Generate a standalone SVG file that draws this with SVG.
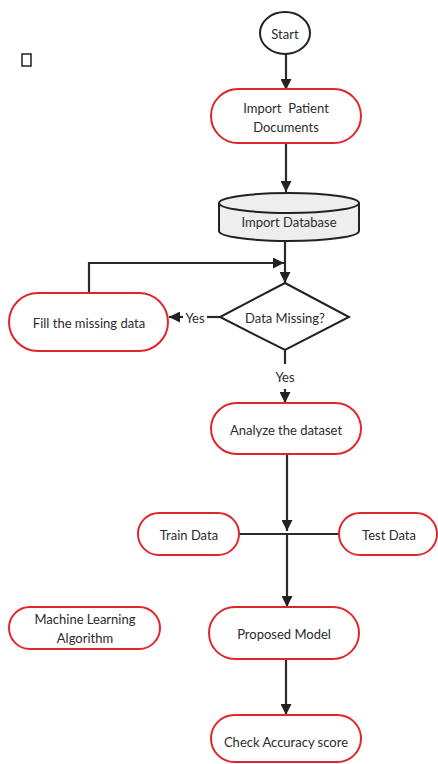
<svg xmlns="http://www.w3.org/2000/svg" width="438" height="764" viewBox="0 0 438 764">
<style>
.term{fill:#fff;stroke:#e0262b;stroke-width:2}
.blk{fill:#fff;stroke:#222;stroke-width:2}
.ln{fill:none;stroke:#2a2a2a;stroke-width:2.2}
text{font-family:Lato,"Open Sans","DejaVu Sans",sans-serif;font-size:13px;fill:#2b2b2b;text-anchor:middle;dominant-baseline:central}
</style>
<defs>
<marker id="ah" viewBox="0 0 10 10" refX="10" refY="5" markerWidth="11" markerHeight="11" markerUnits="userSpaceOnUse" orient="auto">
<path d="M0,0 L10,5 L0,10 Z" fill="#222"/>
</marker>
</defs>
<rect x="22" y="54" width="9" height="12" fill="#fff" stroke="#222" stroke-width="1.5"/>
<g id="connectors">
<line class="ln" x1="286" y1="54" x2="286" y2="90" marker-end="url(#ah)"/>
<line class="ln" x1="286" y1="143" x2="286" y2="192" marker-end="url(#ah)"/>
<line class="ln" x1="285" y1="241" x2="285" y2="283" marker-end="url(#ah)"/>
<polyline class="ln" points="89,293 89,263 284,263" marker-end="url(#ah)"/>
<line class="ln" x1="220" y1="317" x2="207" y2="317"/>
<line class="ln" x1="183" y1="317" x2="169" y2="317" marker-end="url(#ah)"/>
<line class="ln" x1="285" y1="350" x2="285" y2="364"/>
<line class="ln" x1="285" y1="389" x2="285" y2="403" marker-end="url(#ah)"/>
<line class="ln" x1="287" y1="454" x2="287" y2="531" marker-end="url(#ah)"/>
<line class="ln" x1="239" y1="534" x2="339" y2="534"/>
<line class="ln" x1="287" y1="534" x2="287" y2="607" marker-end="url(#ah)"/>
<line class="ln" x1="286" y1="659" x2="286" y2="715" marker-end="url(#ah)"/>
<text x="195" y="318">Yes</text>
<text x="285" y="377">Yes</text>
</g>
<g id="start"><ellipse class="blk" cx="285" cy="33" rx="25" ry="21"/><text x="285" y="34">Start</text></g>
<g id="import-docs"><rect class="term" x="211" y="89" width="150" height="54" rx="27"/><text x="286" y="108" xml:space="preserve">Import  Patient</text><text x="286" y="127">Documents</text></g>
<g id="import-db">
<path d="M219,203 L219,231 A70,10 0 0 0 359,231 L359,203" fill="#eeeeee" stroke="#222" stroke-width="2"/>
<ellipse cx="289" cy="203" rx="70" ry="10" fill="#eeeeee" stroke="#222" stroke-width="2"/>
<text x="289" y="222">Import Database</text></g>
<g id="decision"><polygon class="blk" points="285,283 349,317 285,350 220,317"/><text x="285" y="318">Data Missing?</text></g>
<g id="fill"><rect class="term" x="9" y="293" width="159" height="58" rx="29"/><text x="89" y="323">Fill the missing data</text></g>
<g id="analyze"><rect class="term" x="211" y="403" width="150" height="51" rx="25.5"/><text x="286" y="430">Analyze the dataset</text></g>
<g id="train"><rect class="term" x="138" y="513" width="101" height="42" rx="21"/><text x="189" y="535">Train Data</text></g>
<g id="test"><rect class="term" x="339" y="513" width="98" height="42" rx="21"/><text x="389" y="535">Test Data</text></g>
<g id="ml"><rect class="term" x="9" y="607" width="151" height="42" rx="21"/><text x="85" y="619">Machine Learning</text><text x="85" y="638">Algorithm</text></g>
<g id="model"><rect class="term" x="209" y="607" width="150" height="52" rx="26"/><text x="284" y="634">Proposed Model</text></g>
<g id="accuracy"><rect class="term" x="211" y="715" width="150" height="47" rx="23.5"/><text x="286" y="742">Check Accuracy score</text></g>
</svg>
